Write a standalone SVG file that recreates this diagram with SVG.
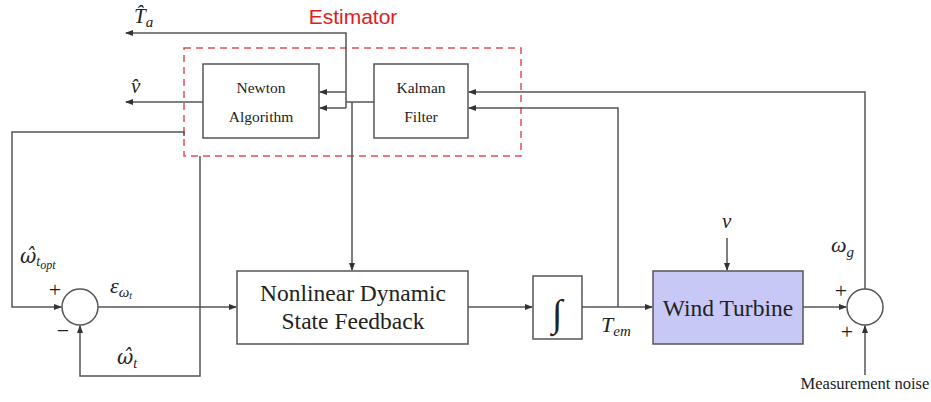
<svg xmlns="http://www.w3.org/2000/svg" width="931" height="402" viewBox="0 0 931 402">
<style>
.ln{fill:none;stroke:#555;stroke-width:1.5}
.box{fill:#fff;stroke:#555;stroke-width:1.5}
.t{font-family:"Liberation Serif",serif;fill:#222}
.m{font-family:"Liberation Serif",serif;font-style:italic;fill:#222}
.g{font-family:"DejaVu Serif",serif;font-style:italic}
</style>
<defs>
<marker id="ah" markerWidth="8" markerHeight="6" refX="7" refY="3" orient="auto" markerUnits="userSpaceOnUse">
<path d="M0,0 L8,3 L0,6 Z" fill="#333"/>
</marker>
</defs>
<rect width="931" height="402" fill="#fff"/>

<g id="estimator">
<rect x="184" y="48" width="337" height="108" fill="none" stroke="#e0505a" stroke-width="1.5" stroke-dasharray="7,5"/>
<text x="353" y="24" font-family="Liberation Sans,sans-serif" font-size="21" fill="#e02020" text-anchor="middle">Estimator</text>
</g>

<g id="newton">
<rect class="box" x="203" y="64" width="116" height="74"/>
<text class="t" x="261" y="93" font-size="15.5" text-anchor="middle">Newton</text>
<text class="t" x="261" y="122" font-size="15.5" text-anchor="middle">Algorithm</text>
</g>

<g id="kalman">
<rect class="box" x="374" y="64" width="94" height="74"/>
<text class="t" x="421" y="93" font-size="15.5" text-anchor="middle">Kalman</text>
<text class="t" x="421" y="122" font-size="15.5" text-anchor="middle">Filter</text>
</g>

<g id="ndsf">
<rect class="box" x="237" y="271" width="231" height="73"/>
<text class="t" x="353" y="301" font-size="23.5" text-anchor="middle">Nonlinear Dynamic</text>
<text class="t" x="353" y="329" font-size="23.5" text-anchor="middle">State Feedback</text>
</g>

<g id="integrator">
<rect class="box" x="533" y="276" width="49" height="63"/>
<text class="t" x="557" y="326" font-size="38" text-anchor="middle">∫</text>
</g>

<g id="turbine">
<rect x="653" y="271" width="150" height="73" fill="#c8c8f6" stroke="#555" stroke-width="1.5"/>
<text class="t" x="728" y="316" font-size="23.5" text-anchor="middle">Wind Turbine</text>
</g>

<g id="sum1">
<circle class="box" cx="80" cy="307" r="18"/>
<text class="t" x="55" y="297" font-size="22" text-anchor="middle">+</text>
<text class="t" x="63" y="338" font-size="22" text-anchor="middle">−</text>
</g>

<g id="sum2">
<circle class="box" cx="865" cy="307" r="18"/>
<text class="t" x="841" y="298" font-size="22" text-anchor="middle">+</text>
<text class="t" x="847" y="339" font-size="22" text-anchor="middle">+</text>
</g>

<g id="connectors">
<polyline class="ln" points="346,108 346,33 126,33" marker-end="url(#ah)"/>
<line class="ln" x1="346" y1="92" x2="320" y2="92" marker-end="url(#ah)"/>
<line class="ln" x1="346" y1="108" x2="320" y2="108" marker-end="url(#ah)"/>
<line class="ln" x1="346" y1="102" x2="374" y2="102"/>
<line class="ln" x1="352" y1="102" x2="352" y2="270" marker-end="url(#ah)"/>
<line class="ln" x1="203" y1="102" x2="126" y2="102" marker-end="url(#ah)"/>
<polyline class="ln" points="184,136 184,132 12,132 12,307 61,307" marker-end="url(#ah)"/>
<polyline class="ln" points="200,156 200,376 80,376 80,326" marker-end="url(#ah)"/>
<line class="ln" x1="98" y1="307" x2="236" y2="307" marker-end="url(#ah)"/>
<line class="ln" x1="468" y1="307" x2="532" y2="307" marker-end="url(#ah)"/>
<line class="ln" x1="582" y1="307" x2="652" y2="307" marker-end="url(#ah)"/>
<polyline class="ln" points="618,307 618,108 469,108" marker-end="url(#ah)"/>
<polyline class="ln" points="865,289 865,92 469,92" marker-end="url(#ah)"/>
<line class="ln" x1="727" y1="238" x2="727" y2="270" marker-end="url(#ah)"/>
<line class="ln" x1="803" y1="307" x2="846" y2="307" marker-end="url(#ah)"/>
<line class="ln" x1="865" y1="375" x2="865" y2="326" marker-end="url(#ah)"/>
</g>

<g id="labels">
<text class="m" x="134" y="23" font-size="21">T̂<tspan font-size="15" dy="4">a</tspan></text>
<text class="m" x="131" y="93" font-size="21">v̂</text>
<text class="m" x="20" y="263" font-size="22"><tspan class="g" font-size="20">ω̂</tspan><tspan font-size="14" dy="3">t</tspan><tspan font-size="12" dy="3">opt</tspan></text>
<text class="m" x="110" y="293" font-size="22">ε<tspan font-size="15" dy="4">ω</tspan><tspan font-size="10" dy="2">t</tspan></text>
<text class="m" x="117" y="364" font-size="22"><tspan class="g" font-size="20">ω̂</tspan><tspan font-size="14" dy="4">t</tspan></text>
<text class="m" x="601" y="332" font-size="22">T<tspan font-size="15" dy="4">em</tspan></text>
<text class="m" x="722" y="228" font-size="21">v</text>
<text class="m" x="831" y="252" font-size="22">ω<tspan font-size="15" dy="5">g</tspan></text>
<text class="t" x="865" y="389" font-size="16.5" text-anchor="middle">Measurement noise</text>
</g>
</svg>
